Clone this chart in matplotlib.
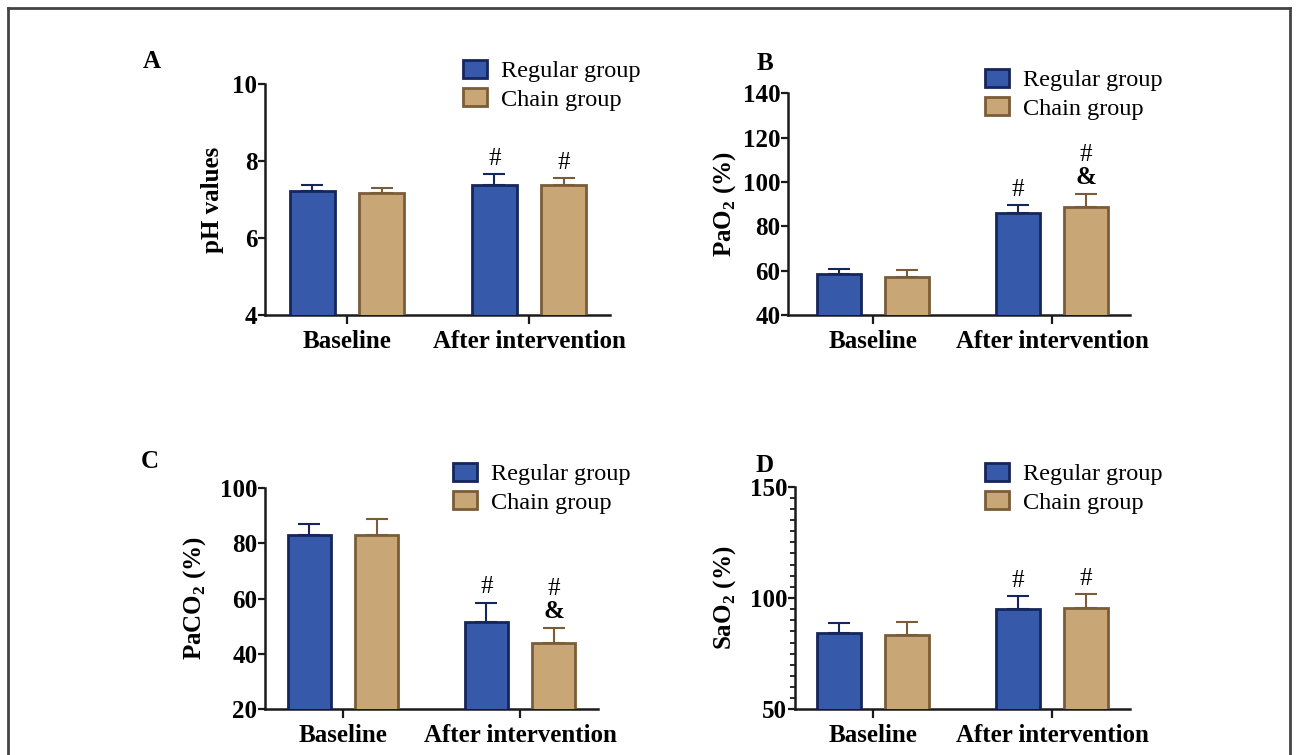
import numpy as np
import matplotlib
matplotlib.use("Agg")
import matplotlib.pyplot as plt
from matplotlib.lines import Line2D
from matplotlib.ticker import MultipleLocator

plt.rcParams['font.family'] = 'Liberation Serif'
plt.rcParams['mathtext.fontset'] = 'custom'
plt.rcParams['mathtext.rm'] = 'Liberation Serif'
plt.rcParams['mathtext.bf'] = 'Liberation Serif:bold'

categories = ["Baseline", "After intervention"]
groups = ["Regular group", "Chain group"]

# mean values and upper SD
ph_regular = [7.22, 7.38]
ph_regular_err = [0.15, 0.27]
ph_chain = [7.16, 7.38]
ph_chain_err = [0.15, 0.18]

pao2_regular = [58.3, 86.1]
pao2_regular_err = [2.6, 3.6]
pao2_chain = [57.0, 88.8]
pao2_chain_err = [3.3, 6.0]

paco2_regular = [82.9, 51.6]
paco2_regular_err = [3.9, 6.9]
paco2_chain = [82.9, 43.8]
paco2_chain_err = [5.7, 5.7]

sao2_regular = [84.4, 94.9]
sao2_regular_err = [4.2, 6.0]
sao2_chain = [83.5, 95.4]
sao2_chain_err = [5.9, 6.3]

# significance marks on the "after intervention" bars
marks_regular = ["#", "#", "#", "#"]
marks_chain = ["#", "#&", "#&", "#"]

W, H = 1296, 755
fig = plt.figure(figsize=(W / 100, H / 100), dpi=100)

blue, blue_edge = "#3659a9", "#15265a"
tan, tan_edge = "#c9a676", "#7a5d38"


def box(l, t, r, b):
    return [l / W, 1 - b / H, (r - l) / W, (b - t) / H]


panels = [
    ("A", "pH values", ph_regular, ph_regular_err, ph_chain, ph_chain_err,
     (4, 10), [4, 6, 8, 10], box(265, 84, 610, 315), (-0.45, 1.445), 53, (463, 60), (143, 62)),
    ("B", r"PaO$_\mathbf{2}$ (%)", pao2_regular, pao2_regular_err, pao2_chain, pao2_chain_err,
     (40, 140), [40, 60, 80, 100, 120, 140], box(788, 93.3, 1130, 315), (-0.475, 1.436), 63, (985, 69), (757, 63)),
    ("C", r"PaCO$_\mathbf{2}$ (%)", paco2_regular, paco2_regular_err, paco2_chain, paco2_chain_err,
     (20, 100), [20, 40, 60, 80, 100], box(265, 487.7, 598, 709.3), (-0.44, 1.44), 70, (453, 463), (141, 462)),
    ("D", r"SaO$_\mathbf{2}$ (%)", sao2_regular, sao2_regular_err, sao2_chain, sao2_chain_err,
     (50, 150), [50, 100, 150], box(795, 486.7, 1130, 709.3), (-0.436, 1.436), 70, (985, 463), (755, 465)),
]

x = np.arange(len(categories))
off, bw = 0.19, 0.245

for i, (letter, ylabel, reg, reg_err, ch, ch_err, ylim, yticks, pos, xlim, lab_d, leg_xy, let_xy) in enumerate(panels):
    ax = fig.add_axes(pos)
    b1 = ax.bar(x - off, reg, bw, color=blue, edgecolor=blue_edge, linewidth=2.0, zorder=3, label=groups[0])
    b2 = ax.bar(x + off, ch, bw, color=tan, edgecolor=tan_edge, linewidth=2.0, zorder=3, label=groups[1])
    ax.errorbar(x - off, reg, yerr=[np.zeros(2), reg_err], fmt="none", ecolor=blue_edge,
                elinewidth=1.5, capsize=8, capthick=1.5, zorder=2)
    ax.errorbar(x + off, ch, yerr=[np.zeros(2), ch_err], fmt="none", ecolor=tan_edge,
                elinewidth=1.5, capsize=8, capthick=1.5, zorder=2)

    # marks above the after-intervention bars
    for xx, top, m in [(x[1] - off, reg[1] + reg_err[1], marks_regular[i]),
                       (x[1] + off, ch[1] + ch_err[1], marks_chain[i])]:
        if m == "#":
            ax.annotate("#", (xx, top), xytext=(0, 11), textcoords="offset points",
                        ha="center", va="center", fontsize=18, annotation_clip=False)
        else:
            ax.annotate("&", (xx, top), xytext=(0, 11.5), textcoords="offset points",
                        ha="center", va="center", fontsize=18, fontweight="bold", annotation_clip=False)
            ax.annotate("#", (xx, top), xytext=(0, 27.5), textcoords="offset points",
                        ha="center", va="center", fontsize=18, annotation_clip=False)

    ax.set_ylim(*ylim)
    ax.set_xlim(*xlim)
    ax.set_yticks(yticks)
    ax.set_xticks(x)
    ax.set_xticklabels(categories, fontsize=18, fontweight="bold")
    for t in ax.get_yticklabels():
        t.set_fontsize(18)
        t.set_fontweight("bold")
    if letter == "D":
        ax.yaxis.set_minor_locator(MultipleLocator(5))
        ax.tick_params(axis="y", which="minor", length=3.5, width=1.3, color="#1a1a1a")

    ax.tick_params(axis="y", which="major", length=5, width=1.6, pad=0.5, color="#1a1a1a")
    ax.tick_params(axis="x", length=6.5, width=1.6, pad=4, color="#1a1a1a")
    for s in ["top", "right"]:
        ax.spines[s].set_visible(False)
    for s in ["left", "bottom"]:
        ax.spines[s].set_linewidth(1.8)
        ax.spines[s].set_color("#1a1a1a")

    ax.set_ylabel(ylabel, fontsize=18, fontweight="bold", va="center")
    ax.yaxis.set_label_coords(-lab_d / (pos[2] * W), 0.5)

    ax.legend(handles=[b1, b2], loc="upper left", bbox_to_anchor=(leg_xy[0] / W, 1 - leg_xy[1] / H),
              bbox_transform=fig.transFigure, frameon=False, fontsize=17.5, borderpad=0,
              borderaxespad=0, handlelength=1.0, handleheight=0.75, handletextpad=0.55,
              labelspacing=0.25)

    fig.text(let_xy[0] / W, 1 - let_xy[1] / H, letter, fontsize=18, fontweight="bold",
             ha="left", va="center")

# outer frame (bottom edge is cut off in the original)
frame_kw = dict(transform=fig.transFigure, color="#444444", linewidth=2)
fig.add_artist(Line2D([8 / W, 8 / W], [0, 1 - 8 / H], **frame_kw))
fig.add_artist(Line2D([8 / W, 1290 / W], [1 - 8 / H, 1 - 8 / H], **frame_kw))
fig.add_artist(Line2D([1290 / W, 1290 / W], [0, 1 - 8 / H], **frame_kw))

fig.savefig("out.png", dpi=100)
